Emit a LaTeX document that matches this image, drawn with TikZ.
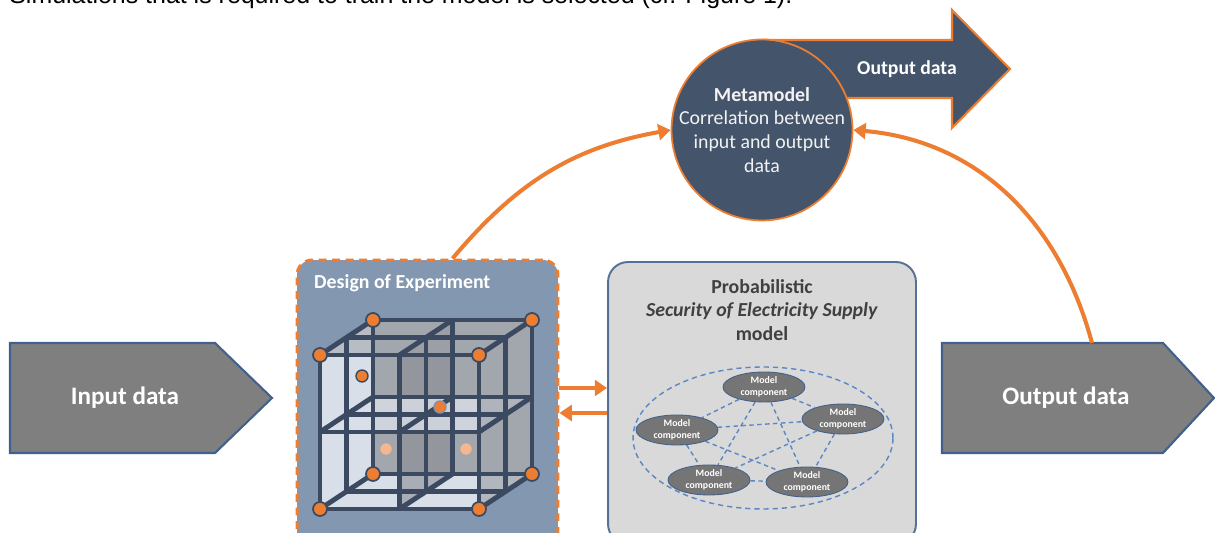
\documentclass[tikz,border=0pt]{standalone}
\usepackage{fontspec}
\setmainfont{Carlito}
\newfontfamily\bodyfont{Liberation Sans}
\usetikzlibrary{shapes.geometric,arrows.meta}

\definecolor{accent}{HTML}{ED7D31}
\definecolor{slate}{HTML}{44546A}
\definecolor{arrowgray}{HTML}{7F7F7F}
\definecolor{edgeblue}{HTML}{41618C}
\definecolor{doefill}{HTML}{8497B0}
\definecolor{probfill}{HTML}{D9D9D9}
\definecolor{linkblue}{HTML}{5B87C5}
\definecolor{beam}{HTML}{3B4A60}
\definecolor{pane}{HTML}{D9DFE8}
\definecolor{panedark}{HTML}{A2A6AD}
\definecolor{darktext}{HTML}{404040}

\begin{document}
\begin{tikzpicture}[x=0.02cm, y=0.02cm,
  flow/.style={accent, line width=2.3pt, -{Triangle[length=7pt,width=9pt]}},
  bigarrow/.style={fill=arrowgray, draw=edgeblue, line width=1.2pt},
  bigtext/.style={text=white, font=\fontsize{14.3}{17}\selectfont\bfseries},
  component/.style={ellipse, fill=arrowgray!92!black, draw=edgeblue, line width=0.5pt,
    minimum width=1.64cm, minimum height=0.6cm, inner sep=0pt, align=center,
    text=white, font=\fontsize{5.6}{7}\selectfont\bfseries},
  link/.style={linkblue, dash pattern=on 2.5pt off 2pt, line width=0.8pt},
  beamline/.style={beam, line width=2.8pt}
]

  \useasboundingbox (0,0) rectangle (1215,533);
  \clip (0,0) rectangle (1215,533);

  % Text above the figure
  \node[anchor=base west, inner sep=0pt, font=\bodyfont\fontsize{14.2}{17}\selectfont] (caption) at (9,529)
    {Simulations that is required to train the model is selected (cf. Figure 1).};

  % Metamodel output
  \filldraw[fill=slate, draw=accent, line width=1.2pt]
    (762,493) -- (952,493) -- (952,523) -- (1010,464) -- (952,405) -- (952,435) -- (762,435) -- cycle;
  \node[text=white, font=\fontsize{11.2}{13}\selectfont\bfseries] (metaout) at (907,464) {Output data};

  % Metamodel
  \node[circle, fill=slate, draw=accent, line width=1pt, minimum size=3.62cm, inner sep=0pt] (meta) at (762,403) {};
  \node[align=center, text=white!95!black, font=\fontsize{11.3}{13.6}\selectfont] (metatext) at (meta)
    {\textbf{Metamodel}\\Correlation between\\input and output\\data};

  % Input and output data
  \draw[bigarrow] (10,190) -- (215,190) -- (272,135) -- (215,80) -- (10,80) -- cycle;
  \node[bigtext] (input) at (125,135) {Input data};
  \draw[bigarrow] (942,190) -- (1163,190) -- (1214,135) -- (1163,80) -- (942,80) -- cycle;
  \node[bigtext] (output) at (1066,135) {Output data};
  \coordinate (outport) at (1092,190);

  % Design of Experiment
  \node[draw=accent, fill=doefill, line width=1.7pt, dash pattern=on 4.5pt off 3.2pt,
    rounded corners=0.3cm, minimum width=5.22cm, minimum height=5.72cm] (doe) at (427.5,130) {};
  \node[anchor=west, text=white, font=\fontsize{11.3}{13.6}\selectfont\bfseries] (doetitle) at (308,250)
    {Design of Experiment};

  % grid points of the cube
  \foreach \u in {0,1,2}
    \foreach \v in {0,1,2}
      \foreach \w in {0,1,2}
        \coordinate (c\u\v\w) at ({320+79.5*\u+26.5*\w},{24+77*\v+17.5*\w});

  % panes
  \fill[panedark] (c002) -- (c202) -- (c222) -- (c022) -- cycle;
  \fill[pane] (c000) -- (c002) -- (c022) -- (c020) -- cycle;
  \fill[pane] (c000) -- (c200) -- (c202) -- (c002) -- cycle;
  \fill[panedark!85!black, opacity=0.6] (c100) -- (c102) -- (c122) -- (c120) -- cycle;
  \fill[pane, opacity=0.8] (c010) -- (c210) -- (c212) -- (c012) -- cycle;
  \fill[panedark, opacity=0.7] (c200) -- (c202) -- (c222) -- (c220) -- cycle;
  \fill[panedark, opacity=0.6] (c020) -- (c220) -- (c222) -- (c022) -- cycle;

  % beams
  \foreach \a in {0,1,2}
    \foreach \b in {0,1,2} {
      \draw[beamline] (c0\a\b) -- (c2\a\b);
      \draw[beamline] (c\a0\b) -- (c\a2\b);
      \draw[beamline] (c\a\b0) -- (c\a\b2);
    }

  % samples
  \foreach \p in {c000,c200,c020,c220,c002,c202,c022,c222}
    \filldraw[fill=accent, draw=beam, line width=1pt] (\p) circle (0.14cm);
  \filldraw[fill=accent, draw=beam, line width=0.8pt] (362,157) circle (0.12cm);
  \filldraw[fill=accent, draw=beam!60, line width=0.8pt] (440,126) circle (0.12cm);
  \filldraw[fill=accent!55, draw=panedark, line width=0.8pt] (386,84) circle (0.13cm);
  \filldraw[fill=accent!55, draw=panedark, line width=0.8pt] (466,84) circle (0.13cm);

  % Probabilistic model
  \node[draw=edgeblue!90, fill=probfill, line width=1.1pt, rounded corners=0.4cm,
    minimum width=6.16cm, minimum height=5.64cm] (prob) at (762,130) {};
  \node[align=center, text=darktext, font=\fontsize{11.3}{13.6}\selectfont\bfseries] (probtitle) at (762,223)
    {Probabilistic\\\textit{Security of Electricity Supply}\\model};
  \node[ellipse, draw=linkblue, dash pattern=on 3pt off 2.2pt, line width=0.8pt,
    minimum width=5.2cm, minimum height=2.84cm] (cloud) at (763,95) {};

  \node[component] (mtop) at (764,146) {Model\\component};
  \node[component] (mright) at (843,114) {Model\\component};
  \node[component] (mleft) at (677,103) {Model\\component};
  \node[component] (mlow) at (709,53) {Model\\component};
  \node[component] (mbottom) at (807,51) {Model\\component};

  \foreach \a/\b in {mtop/mleft, mtop/mright, mtop/mlow, mtop/mbottom, mleft/mright,
                     mleft/mlow, mleft/mbottom, mright/mlow, mright/mbottom, mlow/mbottom}
    \draw[link] (\a) -- (\b);

  % Exchange between the boxes
  \draw[flow] ([yshift=0.3cm]doe.east) -- ([yshift=0.3cm]prob.west);
  \draw[flow] ([yshift=-0.2cm]prob.west) -- ([yshift=-0.2cm]doe.east);

  % Training of the metamodel
  \draw[flow] ([xshift=0.5cm]doe.north) to[out=50, in=190] (meta.west);
  \draw[flow] (outport) to[out=105, in=-5] (meta.east);

\end{tikzpicture}
\end{document}
